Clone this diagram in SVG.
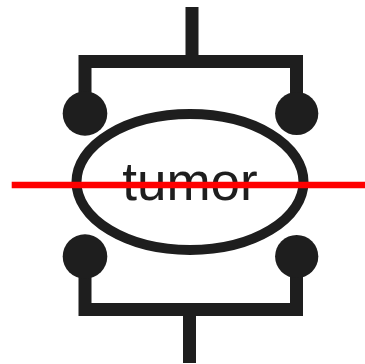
<svg xmlns="http://www.w3.org/2000/svg" width="365" height="364" viewBox="0 0 365 364">
<style>
.k{fill:#1e1e1e}
.w{stroke:#1e1e1e;stroke-width:13;fill:none;stroke-linecap:butt;stroke-linejoin:miter}
</style>
<rect width="365" height="364" fill="#fff"/>
<g id="connectors">
<path class="w" d="M192 7V61.5M85 115V61.5H296.5V115"/>
<path class="w" d="M189.5 363V309.5M85 256V309.5H296.5V256"/>
</g>
<g id="dot-tl"><circle class="k" cx="85" cy="113.5" r="22.3"/></g>
<g id="dot-tr"><circle class="k" cx="296.7" cy="113.5" r="21.6"/></g>
<g id="dot-bl"><circle class="k" cx="85" cy="256.5" r="22.3"/></g>
<g id="dot-br"><circle class="k" cx="296.7" cy="256.5" r="21.6"/></g>
<g id="tumor">
<ellipse cx="190" cy="182" rx="113.5" ry="68" fill="none" stroke="#1e1e1e" stroke-width="10"/>
<text x="190" y="200" text-anchor="middle" font-family="Liberation Sans, Arial, sans-serif" font-size="53" fill="#1e1e1e">tumor</text>
</g>
<g id="red-line"><line x1="11.7" y1="185" x2="365" y2="185" stroke="#ff0000" stroke-width="6.5"/></g>
</svg>
